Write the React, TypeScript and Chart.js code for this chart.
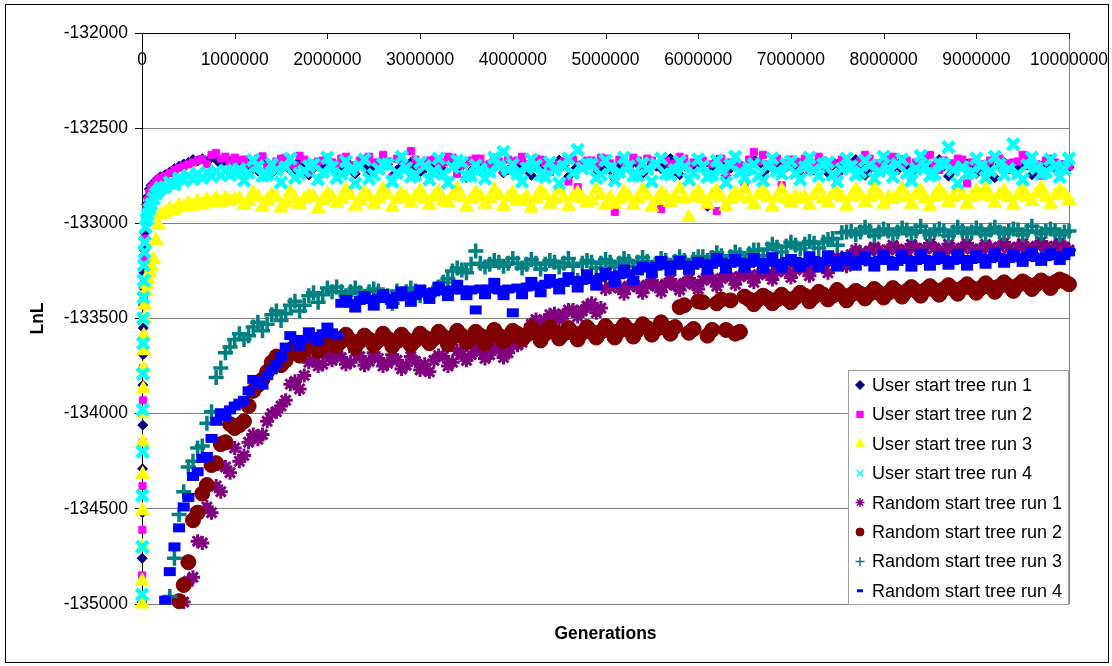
import React, { useEffect, useRef } from 'react';
import { Chart, registerables } from 'chart.js';
import { drawPoint } from 'chart.js/helpers';

Chart.register(...registerables);

const FONT = "'Liberation Sans', Arial, Helvetica, sans-serif";

// Sampled generations (main samples, shared by all runs)
const generations: number[] = [
  0, 2000, 4000, 6000, 8000, 10000, 12000, 14000, 16000, 18000, 20000, 25000, 30000, 40000, 50000, 60000, 80000, 100000,
  125000, 150000, 175000, 200000,
  250000, 300000, 350000, 400000, 450000, 500000, 550000, 600000, 650000, 700000, 750000, 800000, 850000, 900000, 950000, 1000000,
  1100000, 1200000, 1300000, 1400000, 1500000, 1600000, 1700000, 1800000, 1900000, 2000000,
  2100000, 2200000, 2300000, 2400000, 2500000, 2600000, 2700000, 2800000, 2900000, 3000000,
  3100000, 3200000, 3300000, 3400000, 3500000, 3600000, 3700000, 3800000, 3900000, 4000000,
  4100000, 4200000, 4300000, 4400000, 4500000, 4600000, 4700000, 4800000, 4900000, 5000000,
  5100000, 5200000, 5300000, 5400000, 5500000, 5600000, 5700000, 5800000, 5900000, 6000000,
  6100000, 6200000, 6300000, 6400000, 6500000, 6600000, 6700000, 6800000, 6900000, 7000000,
  7100000, 7200000, 7300000, 7400000, 7500000, 7600000, 7700000, 7800000, 7900000, 8000000,
  8100000, 8200000, 8300000, 8400000, 8500000, 8600000, 8700000, 8800000, 8900000, 9000000,
  9100000, 9200000, 9300000, 9400000, 9500000, 9600000, 9700000, 9800000, 9900000, 10000000,
];

// In-between samples (second set of readings)
const generationsMid: number[] = [
  1050000, 1150000, 1250000, 1350000, 1450000, 1550000, 1650000, 1750000, 1850000, 1950000,
  2050000, 2150000, 2250000, 2350000, 2450000, 2550000, 2650000, 2750000, 2850000, 2950000,
  3050000, 3150000, 3250000, 3350000, 3450000, 3550000, 3650000, 3750000, 3850000, 3950000,
  4050000, 4150000, 4250000, 4350000, 4450000, 4550000, 4650000, 4750000, 4850000, 4950000,
  5050000, 5150000, 5250000, 5350000, 5450000, 5550000, 5650000, 5750000, 5850000, 5950000,
  6050000, 6150000, 6250000, 6350000, 6450000, 6550000, 6650000, 6750000, 6850000, 6950000,
  7050000, 7150000, 7250000, 7350000, 7450000, 7550000, 7650000, 7750000, 7850000, 7950000,
  8050000, 8150000, 8250000, 8350000, 8450000, 8550000, 8650000, 8750000, 8850000, 8950000,
  9050000, 9150000, 9250000, 9350000, 9450000, 9550000, 9650000, 9750000, 9850000, 9950000,
];

const xTickValues = [0, 1000000, 2000000, 3000000, 4000000, 5000000, 6000000, 7000000, 8000000, 9000000, 10000000];
const yTickValues = [-135000, -134500, -134000, -133500, -133000, -132500, -132000];

// ---------- User start tree run 1 ----------
const userRun1: (number | null)[] = [
  -134990, -134760, -134520, -134290, -134060, -133850, -133690, -133550, -133430, -133340, -133260, -133140, -133050, -132960, -132900, -132860, -132820, -132800,
  -132790, -132775, -132765, -132755,
  -132745, -132730, -132712, -132700, -132688, -132680, -132665, -132672, -132660, -132678, -132652, -132665, -132690, -132660, -132675, -132668,
  -132680, -132712, -132665, -132735, -132690, -132720, -132672, -132745, -132700, -132686,
  -132725, -132668, -132740, -132695, -132710, -132660, -132752, -132700, -132680, -132730,
  -132690, -132742, -132670, -132715, -132760, -132688, -132705, -132665, -132735, -132700,
  -132675, -132748, -132695, -132710, -132668, -132755, -132700, -132682, -132738, -132690,
  -132765, -132700, -132675, -132740, -132690, -132712, -132660, -132745, -132705, -132690,
  -132910, -132668, -132750, -132695, -132708, -132662, -132740, -132690, -132715, -132680,
  -132742, -132700, -132672, -132735, -132690, -132712, -132665, -132748, -132700, -132685,
  -132725, -132670, -132745, -132695, -132710, -132665, -132752, -132700, -132688, -132738,
  -132695, -132760, -132680, -132712, -132670, -132745, -132700, -132690, -132735, -132705,
];
const userRun1Mid: (number | null)[] = [
  -132700, -132690, -132725, -132680, -132715, -132695, -132730, -132685, -132710, -132700,
  -132690, -132715, -132700, -132680, -132725, -132705, -132690, -132720, -132700, -132710,
  -132715, -132695, -132720, -132690, -132700, -132725, -132695, -132710, -132690, -132720,
  -132700, -132720, -132690, -132715, -132705, -132695, -132725, -132700, -132690, -132710,
  -132720, -132695, -132710, -132690, -132715, -132700, -132690, -132725, -132700, -132715,
  -132700, -132720, -132690, -132710, -132700, -132725, -132695, -132710, -132690, -132705,
  -132715, -132690, -132720, -132700, -132695, -132720, -132700, -132690, -132715, -132700,
  -132700, -132720, -132695, -132710, -132690, -132715, -132700, -132725, -132695, -132710,
  -132720, -132700, -132690, -132715, -132705, -132695, -132720, -132700, -132710, -132715,
];

// ---------- User start tree run 2 ----------
const userRun2: (number | null)[] = [
  -135000, -134850, -134610, -134380, -134150, -133930, -133760, -133610, -133490, -133390, -133300, -133180, -133080, -132990, -132930, -132880, -132840, -132815,
  -132800, -132785, -132770, -132760,
  -132750, -132735, -132720, -132708, -132700, -132690, -132680, -132670, -132662, -132690, -132640, -132630, -132660, -132650, -132680, -132655,
  -132665, -132700, -132648, -132720, -132660, -132690, -132645, -132735, -132675, -132655,
  -132690, -132650, -132720, -132660, -132680, -132640, -132760, -132670, -132620, -132705,
  -132670, -132700, -132650, -132740, -132680, -132660, -132695, -132655, -132720, -132675,
  -132650, -132700, -132665, -132730, -132690, -132780, -132810, -132670, -132700, -132660,
  -132940, -132680, -132655, -132710, -132670, -132925, -132690, -132650, -132700, -132665,
  -132905, -132935, -132740, -132680, -132790, -132625, -132640, -132700, -132800, -132665,
  -132680, -132720, -132650, -132700, -132760, -132670, -132690, -132640, -132710, -132680,
  -132650, -132700, -132760, -132680, -132640, -132720, -132690, -132660, -132790, -132680,
  -132700, -132660, -132720, -132680, -132640, -132700, -132750, -132660, -132690, -132700,
];
const userRun2Mid: (number | null)[] = [
  -132670, -132690, -132660, -132700, -132675, -132655, -132695, -132665, -132685, -132670,
  -132680, -132660, -132695, -132670, -132650, -132690, -132675, -132660, -132700, -132665,
  -132690, -132665, -132680, -132655, -132695, -132670, -132660, -132690, -132675, -132665,
  -132670, -132690, -132660, -132685, -132700, -132675, -132665, -132690, -132670, -132655,
  -132685, -132665, -132690, -132670, -132660, -132695, -132670, -132685, -132660, -132680,
  -132670, -132690, -132660, -132680, -132695, -132665, -132675, -132690, -132660, -132685,
  -132675, -132660, -132690, -132670, -132680, -132665, -132695, -132670, -132660, -132685,
  -132665, -132690, -132670, -132680, -132660, -132695, -132670, -132685, -132665, -132680,
  -132690, -132670, -132660, -132685, -132675, -132665, -132690, -132670, -132680, -132690,
];

// ---------- User start tree run 3 ----------
const userRun3: (number | null)[] = [
  -135000, -134880, -134700, -134510, -134320, -134150, -134000, -133870, -133760, -133670, -133590, -133500, -133430, -133360, -133320, -133290, -133260, -133230,
  -133190, -133090, -133010, -132955,
  -132945, -132925, -132935, -132905, -132918, -132895, -132910, -132885, -132902, -132878, -132895, -132870, -132890, -132868, -132885, -132872,
  -132905, -132840, -132915, -132850, -132920, -132835, -132900, -132855, -132925, -132845,
  -132895, -132825, -132910, -132840, -132900, -132820, -132915, -132845, -132895, -132830,
  -132905, -132835, -132890, -132820, -132915, -132840, -132900, -132825, -132910, -132840,
  -132885, -132920, -132830, -132900, -132825, -132910, -132840, -132895, -132825, -132905,
  -132900, -132835, -132905, -132825, -132915, -132840, -132890, -132820, -132970, -132835,
  -132900, -132830, -132910, -132840, -132820, -132900, -132835, -132915, -132825, -132890,
  -132870, -132905, -132820, -132895, -132840, -132910, -132825, -132890, -132815, -132900,
  -132875, -132820, -132900, -132830, -132910, -132825, -132890, -132815, -132900, -132830,
  -132820, -132895, -132830, -132905, -132825, -132885, -132815, -132900, -132830, -132880,
];
const userRun3Mid: (number | null)[] = [
  -132870, -132885, -132860, -132880, -132865, -132890, -132870, -132875, -132860, -132880,
  -132865, -132870, -132855, -132880, -132860, -132870, -132850, -132875, -132865, -132860,
  -132870, -132860, -132880, -132855, -132865, -132875, -132860, -132870, -132855, -132865,
  -132880, -132860, -132870, -132855, -132875, -132865, -132860, -132870, -132880, -132855,
  -132865, -132875, -132860, -132870, -132855, -132880, -132860, -132865, -132870, -132860,
  -132870, -132855, -132865, -132875, -132860, -132870, -132850, -132865, -132860, -132870,
  -132860, -132865, -132855, -132870, -132850, -132865, -132860, -132855, -132865, -132850,
  -132865, -132855, -132860, -132850, -132870, -132860, -132855, -132865, -132850, -132860,
  -132855, -132860, -132850, -132865, -132855, -132860, -132845, -132860, -132855, -132850,
];

// ---------- User start tree run 4 ----------
const userRun4: (number | null)[] = [
  -134950, -134700, -134430, -134200, -133980, -133790, -133630, -133500, -133390, -133300, -133220, -133150, -133100, -133020, -132980, -132955, -132925, -132900,
  -132870, -132845, -132830, -132815,
  -132810, -132785, -132795, -132765, -132775, -132750, -132768, -132740, -132760, -132735, -132752, -132728, -132748, -132722, -132745, -132730,
  -132775, -132668, -132750, -132690, -132785, -132660, -132740, -132700, -132770, -132655,
  -132760, -132675, -132790, -132665, -132745, -132690, -132780, -132650, -132755, -132680,
  -132770, -132660, -132785, -132670, -132750, -132695, -132765, -132655, -132625, -132690,
  -132780, -132665, -132745, -132680, -132790, -132660, -132615, -132690, -132760, -132670,
  -132775, -132655, -132750, -132685, -132780, -132660, -132745, -132675, -132770, -132665,
  -132755, -132670, -132785, -132650, -132760, -132690, -132775, -132660, -132740, -132675,
  -132770, -132655, -132750, -132680, -132780, -132660, -132745, -132670, -132765, -132650,
  -132755, -132665, -132775, -132645, -132750, -132685, -132600, -132790, -132740, -132660,
  -132760, -132650, -132745, -132585, -132770, -132655, -132740, -132665, -132755, -132660,
];
const userRun4Mid: (number | null)[] = [
  -132715, -132735, -132700, -132745, -132720, -132705, -132760, -132725, -132690, -132730,
  -132705, -132740, -132720, -132700, -132765, -132715, -132690, -132735, -132710, -132745,
  -132700, -132725, -132740, -132705, -132680, -132750, -132715, -132730, -132700, -132720,
  -132740, -132710, -132695, -132755, -132720, -132700, -132735, -132710, -132690, -132745,
  -132710, -132730, -132700, -132750, -132715, -132690, -132740, -132720, -132705, -132735,
  -132700, -132745, -132720, -132695, -132730, -132710, -132750, -132700, -132725, -132690,
  -132735, -132705, -132720, -132690, -132745, -132715, -132700, -132730, -132695, -132725,
  -132710, -132690, -132735, -132715, -132700, -132740, -132690, -132720, -132705, -132730,
  -132700, -132725, -132690, -132715, -132740, -132695, -132710, -132730, -132700, -132715,
];

// ---------- Random start tree run 1 ----------
const randomRun1: (number | null)[] = [
  null, null, null, null, null, null, null, null, null, null, null, null, null, null, null, null, null, null,
  null, null, null, null,
  null, null, null, null, -134990, -134880, -134860, -134670, -134680, -134490, -134520, -134380, -134410, -134280, -134310, -134180,
  -134220, -134110, -134110, -134000, -133960, -133845, -133870, -133730, -133750, -133690,
  -133680, -133740, -133675, -133745, -133680, -133750, -133690, -133765, -133700, -133770,
  -133780, -133695, -133750, -133670, -133720, -133650, -133710, -133645, -133705, -133640,
  -133625, -133530, -133530, -133480, -133505, -133455, -133490, -133435, -133470, -133345,
  -133310, -133370, -133305, -133365, -133300, -133360, -133295, -133350, -133290, -133345,
  -133270, -133330, -133265, -133320, -133255, -133310, -133245, -133295, -133230, -133285,
  -133220, -133275, -133205, -133260, -133180, -133225, -133140, -133190, -133125, -133175,
  -133115, -133165, -133110, -133160, -133105, -133165, -133110, -133160, -133105, -133155,
  -133110, -133160, -133100, -133155, -133105, -133160, -133095, -133150, -133100, -133140,
];
const randomRun1Mid: (number | null)[] = [
  -134250, -134150, -134135, -134040, -133990, -133930, -133830, -133800, -133715, -133740,
  -133720, -133705, -133730, -133700, -133725, -133710, -133735, -133720, -133745, -133725,
  -133740, -133720, -133700, -133730, -133690, -133690, -133675, -133690, -133665, -133680,
  -133640, -133580, -133505, -133510, -133475, -133480, -133455, -133460, -133420, -133445,
  -133335, -133340, -133330, -133335, -133325, -133330, -133320, -133325, -133315, -133320,
  -133300, -133295, -133290, -133285, -133280, -133275, -133270, -133265, -133255, -133250,
  -133245, -133240, -133230, -133220, -133205, -133180, -133165, -133155, -133145, -133140,
  -133140, -133135, -133140, -133130, -133135, -133130, -133140, -133135, -133130, -133135,
  -133135, -133130, -133125, -133130, -133125, -133130, -133120, -133125, -133120, -133125,
];

// ---------- Random start tree run 2 ----------
const randomRun2: (number | null)[] = [
  null, null, null, null, null, null, null, null, null, null, null, null, null, null, null, null, null, null,
  null, null, null, null,
  null, null, null, -134985, -134900, -134780, -134560, -134520, -134420, -134375, -134270, -134260, -134160, -134150, -134055, -134075,
  -134040, -133880, -133820, -133730, -133745, -133665, -133695, -133625, -133670, -133610,
  -133645, -133585, -133650, -133590, -133640, -133580, -133645, -133585, -133640, -133580,
  -133630, -133570, -133635, -133565, -133625, -133570, -133630, -133560, -133620, -133565,
  -133610, -133550, -133615, -133545, -133605, -133550, -133610, -133545, -133600, -133540,
  -133600, -133535, -133595, -133530, -133585, -133520, -133580, -133440, -133575, -133410,
  -133590, -133420, -133560, -133580, -133385, -133425, -133380, -133420, -133375, -133415,
  -133365, -133410, -133360, -133400, -133350, -133405, -133355, -133395, -133345, -133390,
  -133340, -133385, -133335, -133380, -133330, -133375, -133325, -133370, -133320, -133365,
  -133315, -133360, -133310, -133355, -133305, -133345, -133300, -133340, -133295, -133320,
];
const randomRun2Mid: (number | null)[] = [
  -134060, -133960, -133850, -133780, -133700, -133720, -133650, -133665, -133640, -133650,
  -133610, -133620, -133615, -133620, -133610, -133615, -133605, -133620, -133610, -133615,
  -133600, -133605, -133595, -133600, -133590, -133600, -133590, -133595, -133590, -133595,
  -133580, -133585, -133575, -133580, -133570, -133580, -133575, -133575, -133570, -133570,
  -133565, -133565, -133560, -133560, -133550, -133555, -133550, -133545, -133430, -133555,
  -133415, -133560, -133400, -133405, -133570, -133400, -133400, -133395, -133400, -133395,
  -133390, -133380, -133385, -133375, -133380, -133375, -133375, -133370, -133370, -133365,
  -133365, -133360, -133355, -133355, -133350, -133350, -133345, -133345, -133340, -133340,
  -133340, -133335, -133330, -133330, -133325, -133320, -133320, -133315, -133310, -133305,
];

// ---------- Random start tree run 3 ----------
const randomRun3: (number | null)[] = [
  null, null, null, null, null, null, null, null, null, null, null, null, null, null, null, null, null, null,
  null, null, null, null,
  null, -134960, -134760, -134530, -134410, -134280, -134250, -134180, -134170, -134050, -133990, -133810, -133760, -133680, -133650, -133610,
  -133610, -133545, -133565, -133480, -133510, -133430, -133460, -133380, -133415, -133340,
  -133335, -133380, -133340, -133385, -133345, -133375, -133420, -133370, -133340, -133380,
  -133380, -133335, -133290, -133235, -133260, -133145, -133230, -133195, -133225, -133185,
  -133235, -133190, -133240, -133195, -133230, -133185, -133300, -133195, -133235, -133190,
  -133230, -133185, -133225, -133180, -133235, -133185, -133220, -133175, -133225, -133175,
  -133195, -133155, -133200, -133150, -133185, -133140, -133170, -133110, -133150, -133100,
  -133135, -133095, -133130, -133085, -133115, -133045, -133060, -133020, -133065, -133030,
  -133060, -133025, -133055, -133015, -133060, -133030, -133065, -133020, -133055, -133025,
  -133060, -133020, -133055, -133030, -133060, -133015, -133055, -133030, -133060, -133040,
];
const randomRun3Mid: (number | null)[] = [
  -133580, -133590, -133520, -133530, -133460, -133475, -133410, -133430, -133365, -133375,
  -133360, -133360, -133360, -133365, -133360, -133355, -133380, -133355, -133360, -133355,
  -133365, -133350, -133310, -133250, -133245, -133215, -133210, -133215, -133205, -133210,
  -133210, -133215, -133210, -133215, -133205, -133210, -133225, -133210, -133205, -133210,
  -133205, -133210, -133200, -133205, -133200, -133210, -133195, -133200, -133195, -133190,
  -133175, -133180, -133170, -133175, -133165, -133160, -133140, -133135, -133125, -133120,
  -133115, -133110, -133105, -133100, -133080, -133050, -133040, -133045, -133040, -133045,
  -133040, -133045, -133035, -133040, -133045, -133040, -133040, -133045, -133040, -133045,
  -133040, -133035, -133045, -133040, -133035, -133040, -133045, -133040, -133040, -133045,
];

// ---------- Random start tree run 4 ----------
const randomRun4: (number | null)[] = [
  null, null, null, null, null, null, null, null, null, null, null, null, null, null, null, null, null, null,
  null, null, null, null,
  -134980, -134830, -134700, -134600, -134490, -134440, -134330, -134305, -134235, -134225, -134130, -134040, -133995, -134015, -133980, -133960,
  -133930, -133820, -133850, -133770, -133700, -133590, -133645, -133570, -133620, -133545,
  -133590, -133400, -133445, -133380, -133435, -133370, -133425, -133355, -133415, -133345,
  -133400, -133330, -133385, -133320, -133380, -133455, -133375, -133310, -133380, -133470,
  -133375, -133305, -133365, -133290, -133350, -133280, -133340, -133265, -133330, -133255,
  -133310, -133240, -133300, -133225, -133265, -133195, -133250, -133195, -133245, -133200,
  -133245, -133180, -133240, -133185, -133235, -133180, -133240, -133175, -133235, -133185,
  -133230, -133170, -133235, -133165, -133230, -133175, -133225, -133170, -133230, -133165,
  -133225, -133165, -133230, -133160, -133225, -133170, -133220, -133160, -133225, -133165,
  -133215, -133155, -133210, -133160, -133205, -133150, -133200, -133155, -133195, -133150,
];
const randomRun4Mid: (number | null)[] = [
  -133945, -133880, -133835, -133800, -133740, -133650, -133610, -133610, -133595, -133580,
  -133575, -133420, -133420, -133405, -133400, -133395, -133395, -133385, -133385, -133380,
  -133365, -133360, -133355, -133350, -133350, -133350, -133345, -133345, -133350, -133345,
  -133340, -133335, -133330, -133320, -133315, -133310, -133300, -133300, -133295, -133285,
  -133275, -133270, -133265, -133250, -133235, -133225, -133220, -133220, -133220, -133220,
  -133210, -133215, -133205, -133210, -133205, -133210, -133205, -133205, -133210, -133200,
  -133200, -133205, -133195, -133200, -133200, -133195, -133200, -133195, -133200, -133195,
  -133195, -133200, -133190, -133195, -133190, -133195, -133190, -133195, -133190, -133190,
  -133185, -133185, -133180, -133185, -133180, -133175, -133180, -133175, -133170, -133170,
];

const seriesLabels = [
  'User start tree run 1', 'User start tree run 2', 'User start tree run 3', 'User start tree run 4',
  'Random start tree run 1', 'Random start tree run 2', 'Random start tree run 3', 'Random start tree run 4',
];
const seriesMain = [userRun1, userRun2, userRun3, userRun4, randomRun1, randomRun2, randomRun3, randomRun4];
const seriesMid = [userRun1Mid, userRun2Mid, userRun3Mid, userRun4Mid, randomRun1Mid, randomRun2Mid, randomRun3Mid, randomRun4Mid];

// marker styles (Excel-like)
const seriesLook = [
  { color: '#000080', style: 'rectRot', radius: 5, border: 1, legendRadius: 4.5, legendBorder: 1 },
  { color: '#FF00FF', style: 'rect', radius: 5, border: 1, legendRadius: 4.5, legendBorder: 1 },
  { color: '#FFFF00', style: 'triangle', radius: 7, border: 2, legendRadius: 5, legendBorder: 1 },
  { color: '#00FFFF', style: 'crossRot', radius: 8, border: 4.5, legendRadius: 4.5, legendBorder: 1.5 },
  { color: '#800080', style: 'star', radius: 7, border: 3, legendRadius: 4.5, legendBorder: 1.5 },
  { color: '#800000', style: 'circle', radius: 7.5, border: 1, legendRadius: 4, legendBorder: 1 },
  { color: '#008080', style: 'cross', radius: 7.5, border: 3.5, legendRadius: 4.5, legendBorder: 1.5 },
  { color: '#0000FF', style: 'line', radius: 6, border: 9, legendRadius: 3, legendBorder: 3 },
];

const toPoints = (vals: (number | null)[], gens: number[]) =>
  gens
    .map((g, i) => (vals[i] === null || vals[i] === undefined ? null : { x: g, y: vals[i] as number }))
    .filter((p) => p !== null) as { x: number; y: number }[];

const framePlugin = {
  id: 'excelFrame',
  beforeDraw(chart: any) {
    const { ctx, width, height } = chart;
    ctx.save();
    ctx.fillStyle = '#ffffff';
    ctx.fillRect(0, 0, width, height);
    ctx.restore();
  },
  beforeDatasetsDraw(chart: any) {
    const { ctx, chartArea: a } = chart;
    ctx.save();
    ctx.strokeStyle = '#808080';
    ctx.lineWidth = 1;
    ctx.beginPath();
    ctx.moveTo(Math.round(a.right) + 0.5, a.top);
    ctx.lineTo(Math.round(a.right) + 0.5, a.bottom);
    ctx.stroke();
    ctx.restore();
  },
  afterDraw(chart: any) {
    const { ctx, chartArea: a, scales } = chart;
    ctx.save();
    // outer chart border
    ctx.strokeStyle = '#000';
    ctx.lineWidth = 1;
    ctx.strokeRect(5.5, 4.5, 1103, 658);
    // inward tick marks on the top axis
    const xs = scales.x;
    ctx.beginPath();
    xs.ticks.forEach((t: any) => {
      const px = Math.round(xs.getPixelForValue(t.value)) + 0.5;
      ctx.moveTo(px, a.top);
      ctx.lineTo(px, a.top + 6);
    });
    ctx.stroke();

    // legend box inside plot area, bottom right
    const lw = 221;
    const lh = 235;
    const lx = Math.round(a.right) - lw;
    const ly = Math.round(a.bottom) + 1 - lh;
    ctx.fillStyle = '#fff';
    ctx.fillRect(lx, ly, lw, lh);
    ctx.strokeStyle = '#a0a0a0';
    ctx.lineWidth = 1;
    ctx.strokeRect(lx + 0.5, ly + 0.5, lw - 1, lh - 1);
    ctx.font = `18px ${FONT}`;
    ctx.textBaseline = 'middle';
    ctx.textAlign = 'left';
    seriesLabels.forEach((label, i) => {
      const look = seriesLook[i];
      const cy = ly + 15 + i * 29.4;
      ctx.fillStyle = look.color;
      ctx.strokeStyle = look.color;
      ctx.lineWidth = look.legendBorder;
      drawPoint(ctx, { pointStyle: look.style as any, rotation: 0, radius: look.legendRadius, borderWidth: look.legendBorder }, lx + 12, cy);
      ctx.fillStyle = '#000';
      ctx.fillText(label, lx + 24, cy + 1);
    });
    ctx.restore();
  },
};

export default function App() {
  const canvasRef = useRef<HTMLCanvasElement | null>(null);

  useEffect(() => {
    const canvas = canvasRef.current;
    if (!canvas) return;
    const datasets = seriesMain.map((vals, i) => {
      const look = seriesLook[i];
      const pts = toPoints(vals, generations)
        .concat(toPoints(seriesMid[i], generationsMid))
        .sort((p, q) => p.x - q.x);
      return {
        label: seriesLabels[i],
        data: pts,
        xAxisID: 'x',
        yAxisID: 'y',
        pointStyle: look.style as any,
        pointRadius: look.radius,
        pointHoverRadius: look.radius,
        pointBorderWidth: look.border,
        backgroundColor: look.color,
        borderColor: look.color,
        showLine: false,
        clip: false as any,
        order: seriesMain.length - 1 - i,
      };
    });

    const chart = new Chart(canvas, {
      type: 'scatter',
      data: { datasets },
      options: {
        responsive: false,
        animation: false,
        devicePixelRatio: 1,
        events: [],
        layout: { padding: { left: 0, top: 0, right: 43, bottom: 21 } },
        plugins: {
          legend: { display: false },
          tooltip: { enabled: false },
          title: { display: false },
        },
        scales: {
          x: {
            type: 'linear',
            position: 'top',
            min: 0,
            max: 10000000,
            afterBuildTicks: (s: any) => {
              s.ticks = xTickValues.map((v) => ({ value: v }));
            },
            afterFit: (s: any) => {
              s.height = 33;
              s.paddingLeft = 0;
              s.paddingRight = 0;
            },
            grid: { display: false, drawTicks: false },
            border: { display: true, color: '#000', width: 1 },
            ticks: {
              mirror: true,
              padding: 16.5,
              autoSkip: false,
              maxRotation: 0,
              color: '#000',
              font: { family: FONT, size: 17.5 },
              callback: (v: any) => String(v),
            },
          },
          xb: {
            type: 'linear',
            position: 'bottom',
            min: 0,
            max: 10000000,
            afterFit: (s: any) => {
              s.height = 41;
              s.paddingLeft = 0;
              s.paddingRight = 0;
            },
            grid: { display: false, drawTicks: false },
            border: { display: false },
            ticks: { display: false },
            title: {
              display: true,
              text: 'Generations',
              color: '#000',
              font: { family: FONT, size: 17.5, weight: 'bold' },
              padding: { top: 0, bottom: 0 },
            },
          },
          y: {
            type: 'linear',
            position: 'left',
            min: -135000,
            max: -132000,
            afterBuildTicks: (s: any) => {
              s.ticks = yTickValues.map((v) => ({ value: v }));
            },
            afterFit: (s: any) => {
              s.width = 142;
              s.paddingTop = 0;
              s.paddingBottom = 0;
            },
            grid: { color: '#808080', lineWidth: 1, tickColor: '#000', tickLength: 7, drawTicks: true },
            border: { display: true, color: '#000', width: 1 },
            ticks: {
              padding: 7,
              color: '#000',
              font: { family: FONT, size: 17.5 },
              callback: (v: any) => String(v),
            },
            title: {
              display: true,
              text: 'LnL',
              color: '#000',
              font: { family: FONT, size: 17.5, weight: 'bold' },
              padding: { top: 27.5, bottom: 0 },
            },
          },
        },
      } as any,
      plugins: [framePlugin],
    });

    return () => {
      chart.destroy();
    };
  }, []);

  return (
    <div style={{ position: 'absolute', left: 0, top: 0, width: 1112, height: 666 }}>
      <canvas ref={canvasRef} width={1112} height={666} style={{ display: 'block', width: 1112, height: 666 }} />
    </div>
  );
}
